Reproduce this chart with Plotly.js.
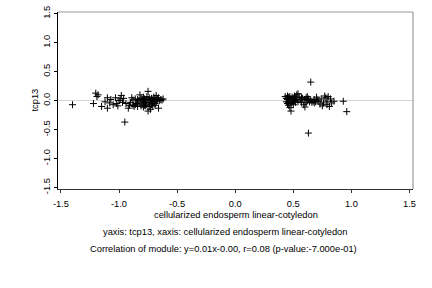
<!DOCTYPE html>
<html>
<head>
<meta charset="utf-8">
<script src="https://cdn.plot.ly/plotly-3.0.1.min.js"></script>
<style>html,body{margin:0;padding:0;background:#fff;}#chart{width:432px;height:288px;}</style>
</head>
<body>
<div id="chart"></div>
<script>
// Left cluster (cellularized endosperm ~ -1.4 .. -0.6)
const leftX = [-1.40,-1.22,-1.20,-1.19,-1.18,-1.15,-1.12,-1.10,-1.10,-1.08,-1.07,-1.05,-1.03,-1.02,-1.00,-0.99,-0.98,-0.97,-0.95,-0.94,-0.92,-0.91,-0.90,-0.89,-0.88,-0.87,-0.86,-0.85,-0.84,-0.83,-0.82,-0.82,-0.81,-0.80,-0.80,-0.79,-0.79,-0.78,-0.78,-0.77,-0.77,-0.76,-0.76,-0.75,-0.75,-0.75,-0.74,-0.74,-0.73,-0.73,-0.72,-0.72,-0.71,-0.71,-0.70,-0.70,-0.69,-0.69,-0.68,-0.68,-0.67,-0.66,-0.66,-0.65,-0.64,-0.63,-0.62,-0.84,-0.86,-0.81,-0.79,-0.77,-0.74,-0.71,-0.69,-0.96,-1.01,-0.88];
const leftY = [-0.07,-0.05,0.13,0.07,0.10,-0.10,-0.02,0.05,-0.13,-0.04,0.02,-0.07,0.05,-0.05,0.00,0.03,0.09,-0.03,-0.37,-0.05,-0.13,-0.08,-0.03,0.05,0.01,-0.10,0.03,-0.05,-0.10,0.00,0.10,-0.04,0.04,-0.06,0.02,-0.02,0.06,-0.08,0.03,-0.04,0.01,0.07,-0.06,0.16,-0.18,0.02,-0.03,0.05,-0.15,0.00,-0.07,0.04,0.01,-0.04,0.06,-0.01,-0.05,0.03,0.09,-0.02,0.02,-0.13,0.05,0.00,0.02,0.01,0.03,0.02,-0.07,-0.09,-0.11,-0.09,-0.10,-0.09,-0.08,0.04,-0.09,-0.08];
// Right cluster (~ 0.43 .. 0.96)
const rightX = [0.43,0.44,0.44,0.45,0.45,0.45,0.46,0.46,0.46,0.47,0.47,0.47,0.48,0.48,0.48,0.49,0.49,0.50,0.50,0.51,0.51,0.52,0.52,0.53,0.53,0.54,0.54,0.55,0.56,0.57,0.58,0.59,0.60,0.60,0.61,0.61,0.62,0.63,0.63,0.64,0.65,0.65,0.66,0.67,0.68,0.69,0.70,0.71,0.72,0.74,0.75,0.76,0.77,0.78,0.79,0.80,0.81,0.82,0.83,0.85,0.93,0.96,0.57,0.62,0.68,0.73,0.79];
const rightY = [0.07,0.04,-0.02,0.08,0.02,-0.05,0.06,-0.03,-0.08,0.03,0.07,-0.12,0.01,-0.05,-0.18,0.06,-0.02,0.03,-0.07,0.08,0.00,0.05,-0.03,0.10,0.02,0.12,-0.02,0.06,0.01,-0.03,0.04,-0.07,0.02,-0.11,0.05,-0.04,0.00,-0.56,0.03,-0.02,0.32,0.01,-0.03,-0.01,0.02,-0.02,0.06,0.01,-0.01,0.03,-0.09,-0.04,0.08,0.05,-0.01,0.07,-0.10,0.03,-0.04,-0.01,-0.01,-0.19,0.06,0.07,-0.04,-0.06,-0.07];

const tickVals = [-1.5,-1.0,-0.5,0.0,0.5,1.0,1.5];
const tickText = ["-1.5","-1.0","-0.5","0.0","0.5","1.0","1.5"];

const xTitle = "cellularized endosperm linear-cotyledon";
const yTitle = "tcp13";
const line2 = "yaxis: tcp13, xaxis: cellularized endosperm linear-cotyledon";
const line3 = "Correlation of module: y=0.01x-0.00, r=0.08 (p-value:-7.000e-01)";

const F = {family: "Liberation Sans, Arial, sans-serif", size: 9.3, color: "#000"};

const xs = leftX.concat(rightX);
const ys = leftY.concat(rightY);

const trace = {
  x: xs, y: ys, type: "scatter", mode: "markers",
  marker: {symbol: "cross-thin", size: 5, color: "#000", line: {color: "#000", width: 1}},
  hoverinfo: "skip", showlegend: false
};

const layout = {
  width: 432, height: 288,
  margin: {l: 58, r: 19, t: 12, b: 98.5},
  paper_bgcolor: "#fff", plot_bgcolor: "#fff",
  font: F,
  xaxis: {
    range: [-1.525, 1.53], tickvals: tickVals, ticktext: tickText,
    showgrid: false, zeroline: false, showline: true, linecolor: "#333", linewidth: 1,
    ticks: "outside", ticklen: 3, tickcolor: "#333", tickfont: F, ticklabelstandoff: 3
  },
  yaxis: {
    range: [-1.525, 1.53], tickvals: tickVals, ticktext: tickText, tickangle: -90,
    showgrid: false, zeroline: true, zerolinecolor: "#d4d4d4", zerolinewidth: 1,
    showline: true, linecolor: "#000", linewidth: 1,
    ticks: "outside", ticklen: 3, tickcolor: "#000", tickfont: F, ticklabelstandoff: 0
  },
  shapes: [
    {type: "line", xref: "paper", yref: "paper", x0: 0, x1: 1, y0: 1, y1: 1, line: {color: "#999", width: 1}},
    {type: "line", xref: "paper", yref: "paper", x0: 1, x1: 1, y0: 0, y1: 1, line: {color: "#888", width: 1}}
  ],
  annotations: [
    {text: xTitle, xref: "paper", yref: "paper", x: 0.5, y: -0.149, showarrow: false, font: F, xanchor: "center", yanchor: "middle"},
    {text: yTitle, xref: "paper", yref: "paper", x: -0.0676, y: 0.5, showarrow: false, font: F, textangle: -90, xanchor: "center", yanchor: "middle"},
    {text: line2, xref: "paper", yref: "paper", x: 0.47, y: -0.245, showarrow: false, font: F, xanchor: "center", yanchor: "middle"},
    {text: line3, xref: "paper", yref: "paper", x: 0.465, y: -0.341, showarrow: false, font: F, xanchor: "center", yanchor: "middle"}
  ]
};

Plotly.newPlot("chart", [trace], layout, {staticPlot: true, displayModeBar: false});
</script>
</body>
</html>
